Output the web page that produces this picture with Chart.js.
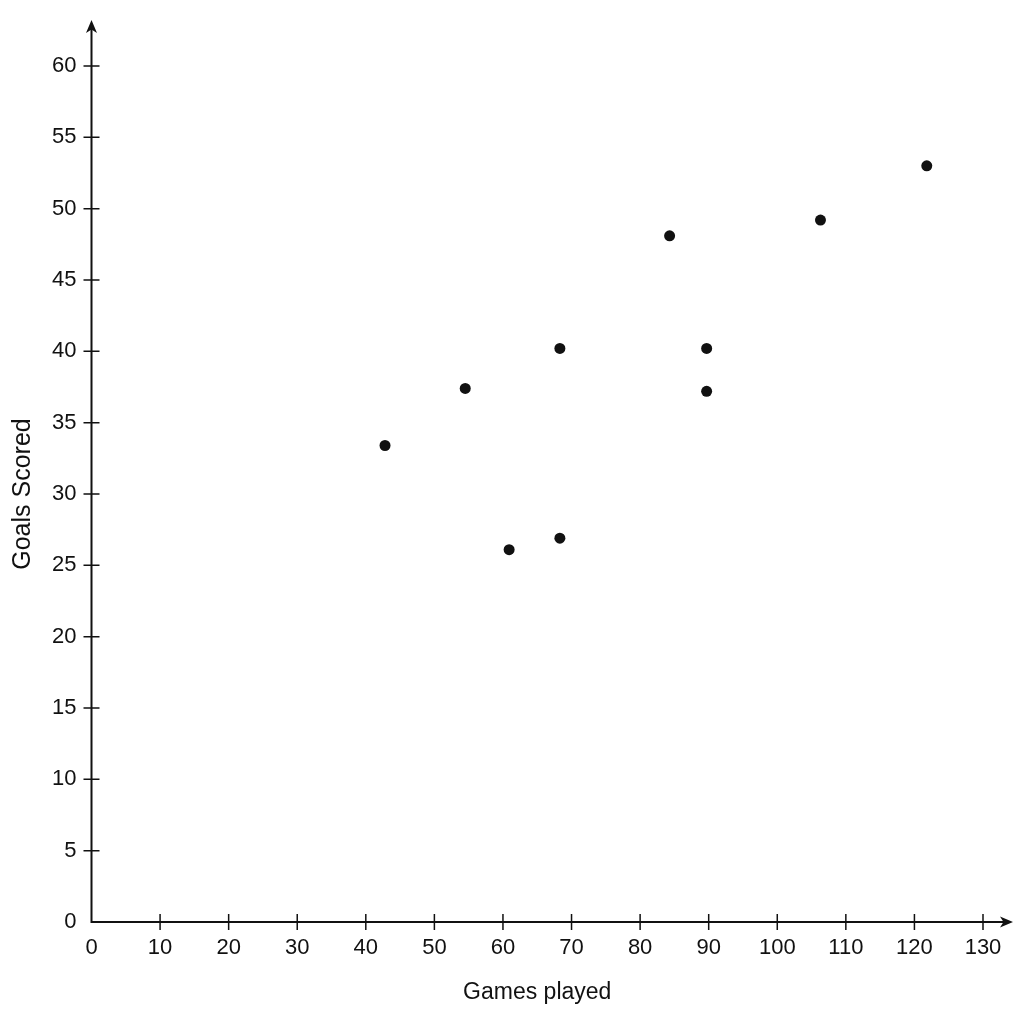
<!DOCTYPE html>
<html>
<head>
<meta charset="utf-8">
<script src="https://cdn.jsdelivr.net/npm/chart.js@4"></script>
<style>
html,body{margin:0;padding:0;background:#fff;}
#wrap{width:1024px;height:1024px;}
</style>
</head>
<body>
<div id="wrap"><canvas id="c" width="1024" height="1024"></canvas></div>
<script>
const gamesPlayed = [42.8, 54.5, 60.9, 68.3, 68.3, 84.3, 89.7, 89.7, 106.3, 121.8];
const goalsScored = [33.4, 37.4, 26.1, 26.9, 40.2, 48.1, 40.2, 37.2, 49.2, 53.0];
const xTicks = [0,10,20,30,40,50,60,70,80,90,100,110,120,130];
const yTicks = [0,5,10,15,20,25,30,35,40,45,50,55,60];
const xTitle = 'Games played';
const yTitle = 'Goals Scored';

const points = gamesPlayed.map((g, i) => ({x: g, y: goalsScored[i]}));
const INK = '#111111';
const FONT = "'Liberation Sans', Arial, Helvetica, sans-serif";

const axesPlugin = {
  id: 'arrowAxes',
  afterDraw(chart) {
    const ctx = chart.ctx;
    const xs = chart.scales.x, ys = chart.scales.y;
    const x0 = xs.getPixelForValue(xTicks[0]);
    const y0 = ys.getPixelForValue(yTicks[0]);
    const yTop = ys.getPixelForValue(yTicks[yTicks.length-1]) - 46;
    const xRight = xs.getPixelForValue(xTicks[xTicks.length-1]) + 30;
    ctx.save();
    ctx.strokeStyle = INK;
    ctx.fillStyle = INK;
    ctx.lineWidth = 2;
    ctx.beginPath();
    ctx.moveTo(x0, yTop + 6);
    ctx.lineTo(x0, y0);
    ctx.lineTo(xRight - 6, y0);
    ctx.stroke();
    // arrow heads
    ctx.beginPath();
    ctx.moveTo(x0, yTop);
    ctx.lineTo(x0 + 5.5, yTop + 13);
    ctx.lineTo(x0, yTop + 9.5);
    ctx.lineTo(x0 - 5.5, yTop + 13);
    ctx.closePath();
    ctx.fill();
    ctx.beginPath();
    ctx.moveTo(xRight, y0);
    ctx.lineTo(xRight - 13, y0 - 5.5);
    ctx.lineTo(xRight - 9.5, y0);
    ctx.lineTo(xRight - 13, y0 + 5.5);
    ctx.closePath();
    ctx.fill();
    // crossing ticks
    ctx.lineWidth = 1.5;
    ctx.beginPath();
    xTicks.slice(1).forEach(v => {
      const px = xs.getPixelForValue(v);
      ctx.moveTo(px, y0 - 8);
      ctx.lineTo(px, y0 + 8);
    });
    yTicks.slice(1).forEach(v => {
      const py = ys.getPixelForValue(v);
      ctx.moveTo(x0 - 8, py);
      ctx.lineTo(x0 + 8, py);
    });
    ctx.stroke();
    ctx.restore();
  }
};

new Chart(document.getElementById('c'), {
  type: 'scatter',
  data: {
    datasets: [{
      data: points,
      backgroundColor: INK,
      borderColor: INK,
      pointRadius: 5.5,
      pointHoverRadius: 5.5,
      borderWidth: 0
    }]
  },
  options: {
    responsive: false,
    animation: false,
    devicePixelRatio: 1,
    layout: {padding: {top: 66, right: 41, left: 0, bottom: 0}},
    plugins: {legend: {display: false}, tooltip: {enabled: false}},
    scales: {
      x: {
        type: 'linear',
        min: 0, max: 130,
        afterFit(s) { s.height = 102; },
        afterBuildTicks(s) { s.ticks = xTicks.map(v => ({value: v})); },
        ticks: {color: INK, font: {family: FONT, size: 22}, padding: 13, maxRotation: 0, autoSkip: false},
        grid: {display: false, drawTicks: false},
        border: {display: false},
        title: {display: true, text: xTitle, color: INK, font: {family: FONT, size: 23}, padding: {top: 0, bottom: 18}}
      },
      y: {
        type: 'linear',
        min: 0, max: 60,
        afterFit(s) { s.width = 91.5; },
        afterBuildTicks(s) { s.ticks = yTicks.map(v => ({value: v})); },
        ticks: {color: INK, font: {family: FONT, size: 22}, padding: 15, autoSkip: false},
        grid: {display: false, drawTicks: false},
        border: {display: false},
        title: {display: true, text: yTitle, color: INK, font: {family: FONT, size: 25}, padding: {top: 8, bottom: 0}}
      }
    }
  },
  plugins: [axesPlugin]
});
</script>
</body>
</html>
